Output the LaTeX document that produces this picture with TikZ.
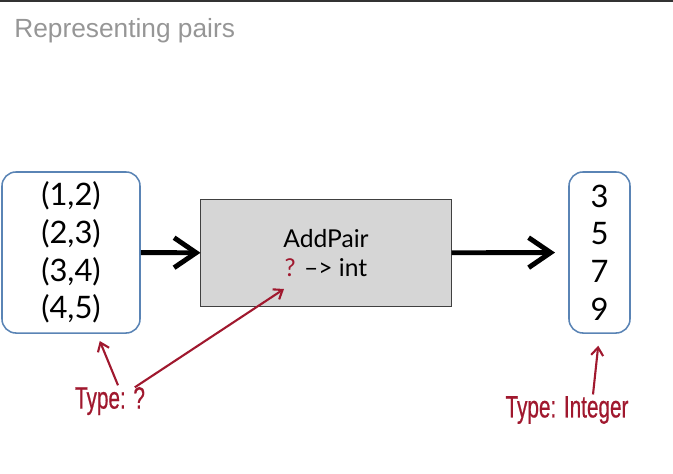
\documentclass[tikz,border=0pt]{standalone}
\usepackage{fontspec}
\setmainfont{Lato}
\newfontfamily\titlefont{Liberation Sans}
\newfontfamily\handfont[FakeStretch=0.67, FakeBold=0.6]{Liberation Sans}
\usetikzlibrary{arrows.meta, positioning}

\definecolor{boxblue}{HTML}{5A84B5}
\definecolor{notered}{HTML}{A0182E}
\definecolor{titlegray}{HTML}{969696}
\definecolor{fungray}{HTML}{D6D6D6}

\begin{document}
\begin{tikzpicture}[
  x=0.025cm, y=0.025cm,
  valbox/.style={
    draw=boxblue, line width=1.1pt, rounded corners=0.35cm,
    align=center, inner sep=0pt,
    font=\fontsize{22}{26.8}\selectfont
  },
  funbox/.style={
    draw=black!75, fill=fungray, line width=0.7pt,
    minimum width=6.25cm, minimum height=2.65cm,
    align=center, font=\fontsize{17.5}{20}\selectfont
  },
  flow/.style={-{Straight Barb[length=0.55cm, width=0.75cm]}, line width=3.5pt},
  note/.style={-{Straight Barb[length=0.2cm, width=0.3cm]}, notered, line width=1.5pt},
  notetext/.style={text=notered, inner sep=1pt,
                   font=\handfont\fontsize{22}{24}\selectfont}
]

\useasboundingbox (0,0) rectangle (673,-474);
\fill[black!80] (0,0) rectangle (673,-2);

%--- Title ---
\node[anchor=west, text=titlegray, inner sep=0pt,
      font=\titlefont\fontsize{18.7}{21}\selectfont] (title) at (14,-31) {Representing pairs};

%--- Boxes ---
\node[valbox, minimum width=3.45cm, minimum height=4.025cm]
      (pairs)   at (71,-252.5)  {(1,2)\\(2,3)\\(3,4)\\(4,5)};
\node[funbox] (addpair) at (326,-253) {AddPair\\\textcolor{notered}{?} --> int};
\node[valbox, minimum width=1.525cm, minimum height=4.025cm]
      (sums)    at (599.5,-252.5) {3\\5\\7\\9};

%--- Data flow ---
\draw[flow] (pairs) -- (addpair);
\draw[flow, shorten >=0.33cm] (addpair) -- (sums);

%--- Type notes ---
\node[notetext] (typeq)   at (110,-401) {Type: ?};
\node[notetext] (typeint) at (567,-410) {Type: Integer};
\coordinate (qtip) at (284,-289);

\draw[note] ([xshift=0.2cm]typeq.north) -- ([xshift=0.72cm, yshift=-0.18cm]pairs.south);
\draw[note] ([xshift=0.62cm, yshift=-0.05cm]typeq.north) -- (qtip);
\draw[note, shorten >=0.3cm] ([xshift=0.65cm]typeint.north) -- (sums.south);

\end{tikzpicture}
\end{document}
